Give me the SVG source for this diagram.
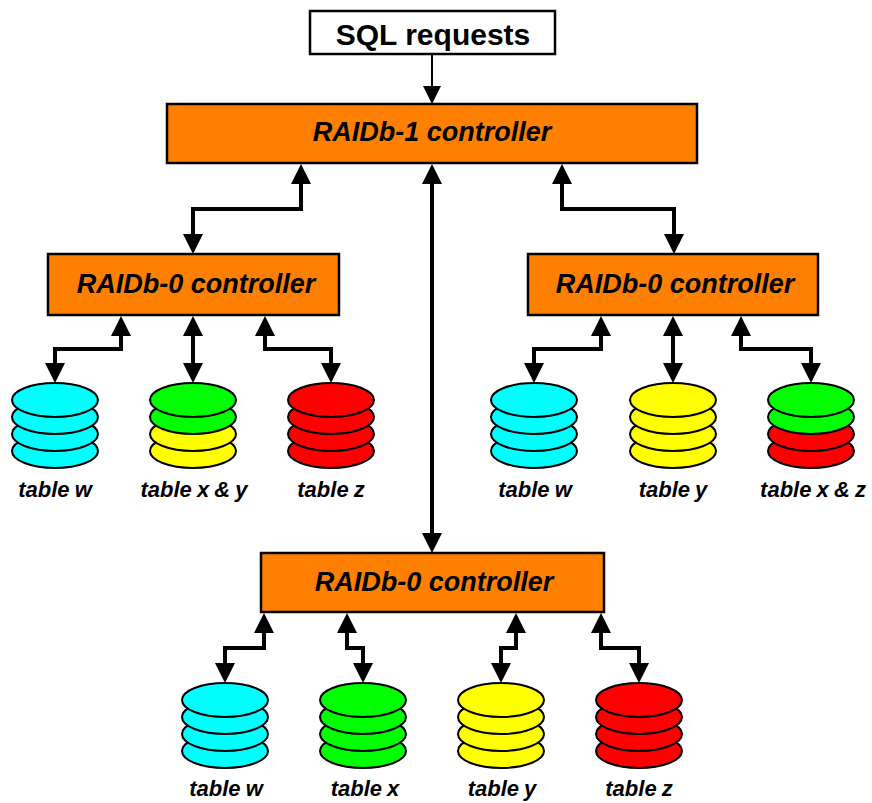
<svg xmlns="http://www.w3.org/2000/svg" width="872" height="803" viewBox="0 0 872 803">
<style>
.box{fill:#ff8000;stroke:#000;stroke-width:2.5}
.sql{fill:#fff;stroke:#000;stroke-width:2.5}
.ctl{font:italic bold 27px "Liberation Sans",Arial,sans-serif;text-anchor:middle;fill:#000}
.lbl{font:italic bold 22px "Liberation Sans",Arial,sans-serif;text-anchor:middle;fill:#000;word-spacing:-1px}
.req{font:bold 30px "Liberation Sans",Arial,sans-serif;text-anchor:middle;fill:#000}
.c{fill:none;stroke:#000;stroke-width:4;marker-start:url(#h);marker-end:url(#h)}
.d ellipse{stroke:#000;stroke-width:2;rx:43px;ry:17px}
.cy{fill:#00ffff}.g{fill:#00ff00}.y{fill:#ffff00}.r{fill:#ff0000}
</style>
<defs>
<marker id="h" markerUnits="userSpaceOnUse" markerWidth="20" markerHeight="20" viewBox="0 0 20 20" refX="0" refY="10" orient="auto-start-reverse"><polygon points="0,0 20,10 0,20" fill="#000"/></marker>
<marker id="h2" markerUnits="userSpaceOnUse" markerWidth="18" markerHeight="18" viewBox="0 0 18 18" refX="0" refY="9" orient="auto"><polygon points="0,0 18,9 0,18" fill="#000"/></marker>
</defs>
<rect width="872" height="803" fill="#fff"/>
<g id="connectors">
<path d="M432 54V86" fill="none" stroke="#000" stroke-width="2" marker-end="url(#h2)"/>
<path class="c" d="M432 184V533"/>
<path class="c" d="M301 184V209H193V234"/>
<path class="c" d="M562 184V209H674V234"/>
<path class="c" d="M121 336V349H55V363"/>
<path class="c" d="M193 336V363"/>
<path class="c" d="M265 336V349H331V363"/>
<path class="c" d="M601 336V349H534V363"/>
<path class="c" d="M673 336V363"/>
<path class="c" d="M741 336V349H811V363"/>
<path class="c" d="M264 633V648H225V663"/>
<path class="c" d="M347 633V648H363V663"/>
<path class="c" d="M516 633V648H501V663"/>
<path class="c" d="M601 633V648H639V663"/>
</g>
<g id="sql"><rect class="sql" x="310" y="11" width="245" height="43"/><text class="req" x="433" y="45">SQL requests</text></g>
<g id="raidb1"><rect class="box" x="167" y="104" width="530" height="59"/><text class="ctl" x="432" y="141">RAIDb-1 controller</text></g>
<g id="raidb0-left"><rect class="box" x="48" y="254" width="291" height="61"/><text class="ctl" x="196" y="293">RAIDb-0 controller</text></g>
<g id="raidb0-right"><rect class="box" x="528" y="254" width="290" height="61"/><text class="ctl" x="675" y="293">RAIDb-0 controller</text></g>
<g id="raidb0-bottom"><rect class="box" x="261" y="553" width="343" height="59"/><text class="ctl" x="434" y="591">RAIDb-0 controller</text></g>
<g id="db-l-w" class="d"><ellipse class="cy" cx="55" cy="451"/><ellipse class="cy" cx="55" cy="434"/><ellipse class="cy" cx="55" cy="417"/><ellipse class="cy" cx="55" cy="400"/><text class="lbl" x="55" y="497">table w</text></g>
<g id="db-l-xy" class="d"><ellipse class="y" cx="193" cy="451"/><ellipse class="y" cx="193" cy="434"/><ellipse class="g" cx="193" cy="417"/><ellipse class="g" cx="193" cy="400"/><text class="lbl" x="194" y="497">table x &amp; y</text></g>
<g id="db-l-z" class="d"><ellipse class="r" cx="331" cy="451"/><ellipse class="r" cx="331" cy="434"/><ellipse class="r" cx="331" cy="417"/><ellipse class="r" cx="331" cy="400"/><text class="lbl" x="331" y="497">table z</text></g>
<g id="db-r-w" class="d"><ellipse class="cy" cx="534" cy="451"/><ellipse class="cy" cx="534" cy="434"/><ellipse class="cy" cx="534" cy="417"/><ellipse class="cy" cx="534" cy="400"/><text class="lbl" x="535" y="497">table w</text></g>
<g id="db-r-y" class="d"><ellipse class="y" cx="673" cy="451"/><ellipse class="y" cx="673" cy="434"/><ellipse class="y" cx="673" cy="417"/><ellipse class="y" cx="673" cy="400"/><text class="lbl" x="673" y="497">table y</text></g>
<g id="db-r-xz" class="d"><ellipse class="r" cx="811" cy="451"/><ellipse class="r" cx="811" cy="434"/><ellipse class="g" cx="811" cy="417"/><ellipse class="g" cx="811" cy="400"/><text class="lbl" x="813" y="497">table x &amp; z</text></g>
<g id="db-b-w" class="d"><ellipse class="cy" cx="225" cy="751"/><ellipse class="cy" cx="225" cy="734"/><ellipse class="cy" cx="225" cy="717"/><ellipse class="cy" cx="225" cy="700"/><text class="lbl" x="226" y="796">table w</text></g>
<g id="db-b-x" class="d"><ellipse class="g" cx="363" cy="751"/><ellipse class="g" cx="363" cy="734"/><ellipse class="g" cx="363" cy="717"/><ellipse class="g" cx="363" cy="700"/><text class="lbl" x="365" y="796">table x</text></g>
<g id="db-b-y" class="d"><ellipse class="y" cx="501" cy="751"/><ellipse class="y" cx="501" cy="734"/><ellipse class="y" cx="501" cy="717"/><ellipse class="y" cx="501" cy="700"/><text class="lbl" x="502" y="796">table y</text></g>
<g id="db-b-z" class="d"><ellipse class="r" cx="639" cy="751"/><ellipse class="r" cx="639" cy="734"/><ellipse class="r" cx="639" cy="717"/><ellipse class="r" cx="639" cy="700"/><text class="lbl" x="639" y="796">table z</text></g>
</svg>
